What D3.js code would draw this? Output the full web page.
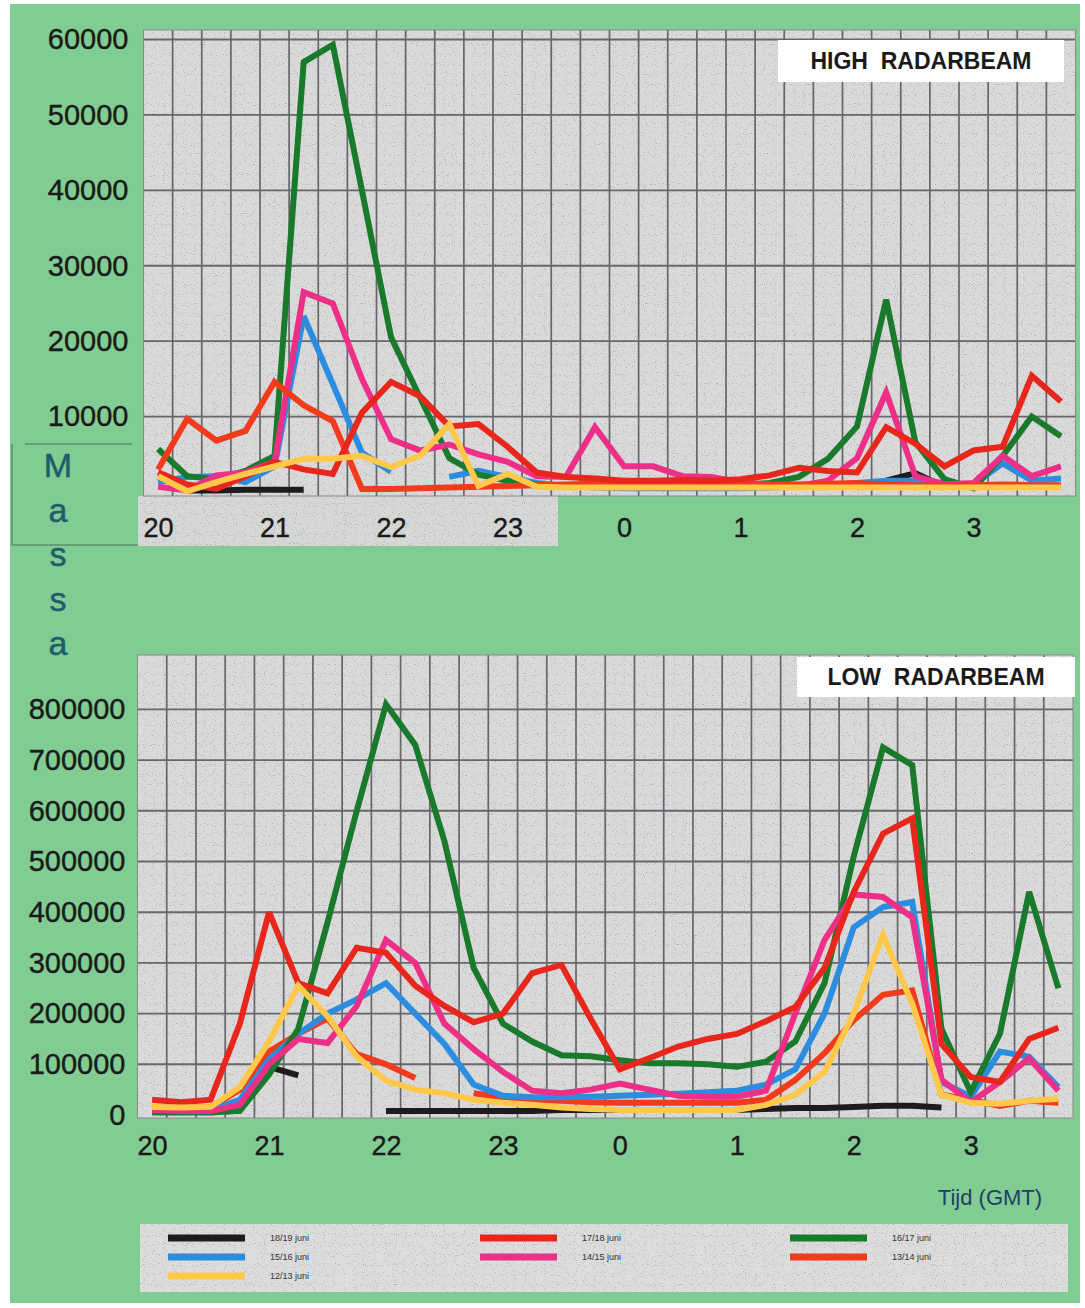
<!DOCTYPE html>
<meta charset="utf-8">
<head>
<title>Massa - high / low radarbeam</title>
<script src="https://cdn.jsdelivr.net/npm/d3@7"></script>
<style>
  body { margin: 0; background: #fff; }
  text { font-family: "Liberation Sans", Arial, sans-serif; }
</style>
</head>
<body>
<script>

// quarter-hour slots, 20:00 .. 3:45 (GMT)
const times = ["20:00","20:15","20:30","20:45","21:00","21:15","21:30","21:45",
               "22:00","22:15","22:30","22:45","23:00","23:15","23:30","23:45",
               "0:00","0:15","0:30","0:45","1:00","1:15","1:30","1:45",
               "2:00","2:15","2:30","2:45","3:00","3:15","3:30","3:45"];
const hourTicks = ["20:00","21:00","22:00","23:00","0:00","1:00","2:00","3:00"];
const hourLabels = ["20","21","22","23","0","1","2","3"];

const highTicks = [10000, 20000, 30000, 40000, 50000, 60000];
const lowTicks = [0, 100000, 200000, 300000, 400000, 500000, 600000, 700000, 800000];

// legend
const nights = ["18/19 juni","15/16 juni","12/13 juni","17/18 juni","14/15 juni","16/17 juni","13/14 juni"];
const nightColors = ["#1c1c1c","#2b8de0","#ffc84a","#e8261c","#ee2f88","#197a2c","#f23a1c"];

// HIGH RADARBEAM (massa)
const high_1819 = [null,200,200,300,300,300,null,null,null,null,null,null,null,null,null,null,
                   null,null,null,null,null,null,null,null,600,1500,2500,700,null,null,null,null];
const high_1516 = [1300,2000,2100,1300,3400,23300,14300,5200,2700,null,2000,2800,2000,1200,800,600,
                   500,500,500,500,500,600,700,900,1200,1500,1500,1200,1000,3800,1500,1800];
const high_1213 = [2100,100,1300,2400,3400,4400,4400,4800,3300,4800,9000,800,2400,700,600,600,
                   600,600,600,600,600,600,600,600,600,600,600,600,600,600,600,600];
const high_1718 = [2600,1000,400,2100,4000,3000,2400,10500,14600,12700,8700,9000,6000,2600,2000,1800,
                   1500,1500,1600,1500,1700,2200,3200,2800,2600,8600,6400,3400,5500,6000,15400,12000];
const high_1415 = [700,200,2200,2600,4000,26500,25000,15000,7000,5500,6300,5000,4000,2100,2000,8600,
                   3400,3400,2100,2000,1300,1000,800,1500,4500,13200,2100,1000,1200,4800,2100,3400];
const high_1617 = [5700,2100,1700,2800,4800,57000,59300,40000,20500,12500,4500,2300,1500,1000,800,700,
                   700,600,600,700,900,1200,2000,4400,8700,25500,6600,1700,500,4800,10000,7400];
const high_1314 = [3000,9700,6800,8100,14600,11500,9400,400,400,500,600,700,800,900,1000,1100,
                   1200,1200,1100,1100,1000,1000,1000,1100,1200,1000,900,800,900,1000,900,900];

// LOW RADARBEAM (massa)
const low_1819 = [null,null,null,null,95000,78000,null,null,8000,8000,8000,8000,8000,8000,10000,10000,
                  10000,10000,10000,10000,10000,12000,14000,14000,16000,18000,18000,15000,null,null,null,null];
const low_1516 = [10000,8000,10000,30000,110000,160000,200000,228000,260000,200000,140000,60000,38000,35000,35000,36000,
                  38000,40000,42000,45000,48000,60000,90000,200000,370000,410000,420000,65000,36000,125000,115000,55000];
const low_1213 = [16000,15000,16000,55000,145000,255000,195000,115000,68000,50000,43000,30000,24000,20000,15000,12000,
                  10000,10000,10000,10000,10000,20000,40000,85000,200000,355000,220000,40000,24000,22000,28000,32000];
const low_1718 = [30000,25000,30000,180000,400000,260000,240000,330000,320000,255000,215000,183000,200000,280000,296000,190000,
                  90000,112000,135000,150000,160000,185000,213000,290000,440000,555000,585000,140000,75000,65000,150000,172000];
const low_1415 = [10000,8000,8000,20000,100000,150000,142000,215000,345000,300000,180000,130000,85000,48000,43000,50000,
                  62000,50000,38000,36000,36000,48000,200000,345000,435000,430000,390000,70000,25000,65000,112000,48000];
const low_1617 = [5000,5000,5000,8000,80000,170000,380000,600000,810000,730000,540000,290000,180000,145000,118000,116000,
                  108000,102000,102000,100000,95000,105000,145000,260000,510000,725000,690000,170000,45000,160000,440000,250000];
const low_1314 = [15000,15000,15000,50000,125000,160000,190000,120000,100000,73000,null,43000,35000,30000,28000,25000,
                  24000,24000,24000,24000,24000,30000,69000,122000,187000,237000,246000,40000,30000,18000,28000,24000];

// drawing order: first one ends up underneath
const highSeries = [
  {night: "18/19 juni", values: high_1819},
  {night: "15/16 juni", values: high_1516},
  {night: "16/17 juni", values: high_1617},
  {night: "14/15 juni", values: high_1415},
  {night: "13/14 juni", values: high_1314},
  {night: "17/18 juni", values: high_1718},
  {night: "12/13 juni", values: high_1213}
];
const lowSeries = [
  {night: "18/19 juni", values: low_1819},
  {night: "13/14 juni", values: low_1314},
  {night: "15/16 juni", values: low_1516},
  {night: "16/17 juni", values: low_1617},
  {night: "14/15 juni", values: low_1415},
  {night: "17/18 juni", values: low_1718},
  {night: "12/13 juni", values: low_1213}
];

const color = d3.scaleOrdinal().domain(nights).range(nightColors);

const W = 1085, H = 1308;
const svg = d3.select("body").append("svg")
  .attr("width", W)
  .attr("height", H);

// speckle texture for the grid paper
const defs = svg.append("defs");
const f = defs.append("filter").attr("id", "speck")
  .attr("x", 0).attr("y", 0).attr("width", 1).attr("height", 1);
f.append("feTurbulence").attr("type", "fractalNoise").attr("baseFrequency", 0.9)
  .attr("numOctaves", 1).attr("seed", 7).attr("result", "n");
f.append("feColorMatrix").attr("in", "n").attr("type", "matrix")
  .attr("values", "0 0 0 0 0.38  0 0 0 0 0.38  0 0 0 0 0.42  -5 0 0 0 2.05")
  .attr("result", "d");
f.append("feComposite").attr("in", "d").attr("in2", "SourceGraphic").attr("operator", "over");

svg.append("rect").attr("width", W).attr("height", H).attr("fill", "#fff");
svg.append("rect")
  .attr("x", 10).attr("y", 4).attr("width", 1070).attr("height", 1299)
  .attr("fill", "#80cc92");

// grey paper strip under the first x labels
svg.append("rect")
  .attr("x", 138).attr("y", 496).attr("width", 420).attr("height", 50)
  .attr("fill", "#d6d8d6").attr("filter", "url(#speck)");
svg.append("path")
  .attr("d", "M25,444H132M12,444V545H138")
  .attr("fill", "none").attr("stroke", "#5d8f6e").attr("stroke-width", 1.5);

function drawPanel(cfg) {
  const x = d3.scaleLinear().domain([-0.5, times.length - 0.5]).range(cfg.xRange);
  const y = d3.scaleLinear().domain([0, cfg.yMax]).range(cfg.yRange);

  const g = svg.append("g");

  g.append("rect")
    .attr("x", cfg.xRange[0]).attr("y", cfg.top)
    .attr("width", cfg.xRange[1] - cfg.xRange[0])
    .attr("height", cfg.bottom - cfg.top)
    .attr("fill", "#dadada")
    .attr("filter", "url(#speck)");

  // grid (paper grid sits half a slot right of the data slots)
  g.append("g").selectAll("line")
    .data(d3.range(times.length - 1))
    .join("line")
      .attr("x1", d => x(d + 0.5)).attr("x2", d => x(d + 0.5))
      .attr("y1", cfg.top).attr("y2", cfg.bottom)
      .attr("stroke", "#66666c").attr("stroke-width", 1.7);

  g.append("g").selectAll("line")
    .data(cfg.grid)
    .join("line")
      .attr("x1", cfg.xRange[0]).attr("x2", cfg.xRange[1])
      .attr("y1", d => y(d)).attr("y2", d => y(d))
      .attr("stroke", "#66666c").attr("stroke-width", 1.9);

  g.append("rect")
    .attr("x", cfg.xRange[0]).attr("y", cfg.top)
    .attr("width", cfg.xRange[1] - cfg.xRange[0])
    .attr("height", cfg.bottom - cfg.top)
    .attr("fill", "none").attr("stroke", "#8a8a8a").attr("stroke-width", 1);

  // axes
  const yAxis = g.append("g")
    .attr("transform", `translate(${cfg.xRange[0]},0)`)
    .call(d3.axisLeft(y).tickValues(cfg.ticks).tickSize(0)
      .tickPadding(cfg.yPad).tickFormat(d3.format("d")));
  yAxis.select(".domain").remove();
  yAxis.selectAll("text")
    .attr("font-size", 29).attr("fill", "#1a1a1a")
    .attr("stroke", "#1a1a1a").attr("stroke-width", 0.4)
    .style("font-family", "Liberation Sans, Arial, sans-serif");

  const xAxis = g.append("g")
    .attr("transform", `translate(0,${cfg.bottom})`)
    .call(d3.axisBottom(x)
      .tickValues(hourTicks.map(h => times.indexOf(h)))
      .tickFormat((d, i) => hourLabels[i])
      .tickSize(0).tickPadding(cfg.xPad));
  xAxis.select(".domain").remove();
  xAxis.selectAll("text")
    .attr("font-size", 27).attr("fill", "#1a1a1a")
    .attr("stroke", "#1a1a1a").attr("stroke-width", 0.4)
    .style("font-family", "Liberation Sans, Arial, sans-serif");

  // lines
  const line = d3.line()
    .defined(d => d != null)
    .x((d, i) => x(i))
    .y(d => y(d));

  g.append("g").selectAll("path")
    .data(cfg.series)
    .join("path")
      .attr("d", d => line(d.values))
      .attr("fill", "none")
      .attr("stroke", d => color(d.night))
      .attr("stroke-width", 6)
      .attr("stroke-linejoin", "miter")
      .attr("stroke-miterlimit", 3);

  // title box
  g.append("rect")
    .attr("x", cfg.box[0]).attr("y", cfg.box[1])
    .attr("width", cfg.box[2]).attr("height", cfg.box[3])
    .attr("fill", "#fdfdfd");
  g.append("text")
    .attr("x", cfg.box[0] + cfg.box[2] / 2)
    .attr("y", cfg.box[1] + cfg.box[3] / 2)
    .attr("dy", "0.36em")
    .attr("text-anchor", "middle")
    .attr("font-size", 23).attr("font-weight", "bold").attr("fill", "#1a1a1a")
    .attr("xml:space", "preserve")
    .text(cfg.title);
}

drawPanel({
  xRange: [143.5, 1075.5], yRange: [492, 39.5], yMax: 60000,
  top: 30, bottom: 496, grid: highTicks, ticks: highTicks,
  yPad: 15, xPad: 22, series: highSeries,
  title: "HIGH  RADARBEAM", box: [778, 40, 286, 42]
});

drawPanel({
  xRange: [137.5, 1073], yRange: [1115, 709.4], yMax: 800000,
  top: 655, bottom: 1118, grid: lowTicks.slice(1), ticks: lowTicks,
  yPad: 12, xPad: 18, series: lowSeries,
  title: "LOW  RADARBEAM", box: [797, 657, 278, 40]
});

// y title, one letter per line
svg.append("g").selectAll("text")
  .data("Massa".split(""))
  .join("text")
    .attr("x", 58)
    .attr("y", (d, i) => 477 + i * 44.5)
    .attr("text-anchor", "middle")
    .attr("font-size", 34)
    .attr("fill", "#1f5c6c")
    .attr("stroke", "#1f5c6c").attr("stroke-width", 0.5)
    .text(d => d);

svg.append("text")
  .attr("x", 990).attr("y", 1205)
  .attr("text-anchor", "middle")
  .attr("font-size", 22).attr("fill", "#213f66")
  .text("Tijd (GMT)");

// legend
const legend = svg.append("g");
legend.append("rect")
  .attr("x", 140).attr("y", 1224).attr("width", 928).attr("height", 68)
  .attr("fill", "#dcdddc").attr("filter", "url(#speck)");

const legendCols = [[0, 1, 2], [3, 4], [5, 6]];
const colX = [168, 480, 790];
const rowY = [1238, 1257, 1276];
legendCols.forEach((col, c) => {
  col.forEach((k, r) => {
    legend.append("line")
      .attr("x1", colX[c]).attr("x2", colX[c] + 77)
      .attr("y1", rowY[r]).attr("y2", rowY[r])
      .attr("stroke", color(nights[k])).attr("stroke-width", 7);
    legend.append("text")
      .attr("x", colX[c] + 102).attr("y", rowY[r])
      .attr("dy", "0.35em")
      .attr("font-size", 9).attr("fill", "#333")
      .text(nights[k]);
  });
});

</script>
</body>
</html>
